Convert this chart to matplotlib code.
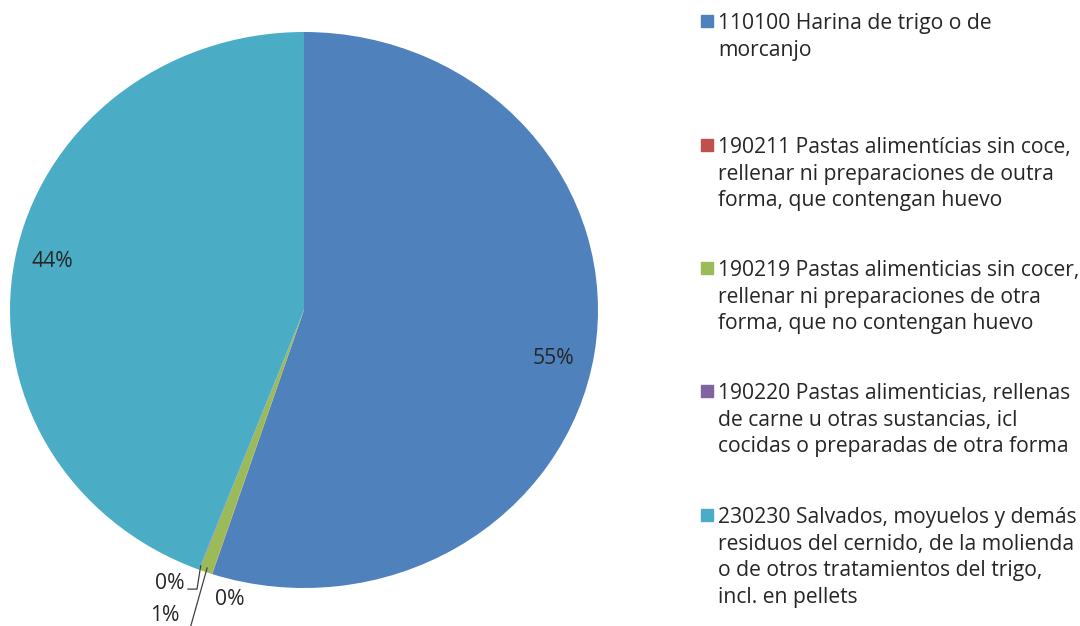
import numpy as np
import matplotlib
matplotlib.use("Agg")
from matplotlib import pyplot as plt
from matplotlib.patches import Rectangle

plt.rcParams['font.family'] = ['Open Sans', 'DejaVu Sans']

labels = [
    "110100 Harina de trigo o de\nmorcanjo",
    "190211 Pastas alimentícias sin coce,\nrellenar ni preparaciones de outra\nforma, que contengan huevo",
    "190219 Pastas alimenticias sin cocer,\nrellenar ni preparaciones de otra\nforma, que no contengan huevo",
    "190220 Pastas alimenticias, rellenas\nde carne u otras sustancias, icl\ncocidas o preparadas de otra forma",
    "230230 Salvados, moyuelos y demás\nresiduos del cernido, de la molienda\no de otros tratamientos del trigo,\nincl. en pellets",
]
shares = [55.05, 0.02, 0.72, 0.03, 44.18]
pct_text = ["55%", "0%", "1%", "0%", "44%"]
colors = ["#4F81BD", "#C0504D", "#9BBB59", "#8064A2", "#4BACC6"]

fig = plt.figure(figsize=(10.8, 6.26), dpi=100)
ax = fig.add_axes([10 / 1080, 38 / 626, 588 / 1080, 556 / 626])

wedges, _ = ax.pie(shares, colors=colors, startangle=90, counterclock=False,
                   radius=1.0, wedgeprops=dict(linewidth=0))
ax.set_aspect('auto')   # the original chart is a bit wider than tall
ax.set_xlim(-1, 1)
ax.set_ylim(-1, 1)
ax.axis('off')

fs = 15.2
txtc = '#262626'
# data labels on the two big slices
ax.text(0.847, -0.176, pct_text[0], ha='center', va='center', fontsize=fs, color=txtc)
ax.text(-0.857, 0.176, pct_text[4], ha='center', va='center', fontsize=fs, color=txtc)

# small slices: labels outside the pie
def edge(i, r=1.0):
    w = wedges[i]
    mid = np.deg2rad((w.theta1 + w.theta2) / 2)
    return r * np.cos(mid), r * np.sin(mid)

ax.text(-0.252, -1.043, pct_text[1], ha='center', va='center', fontsize=fs, color=txtc)

x0, y0 = edge(3, 0.985)
ax.plot([x0, -0.364, -0.395], [y0, -1.004, -1.004], color='#404040', lw=0.9, clip_on=False)
ax.text(-0.405, -0.985, pct_text[3], ha='right', va='center', fontsize=fs, color=txtc)

x0, y0 = edge(2, 0.985)
ax.plot([x0, -0.41], [y0, -1.23], color='#404040', lw=0.9, clip_on=False)
ax.text(-0.475, -1.10, pct_text[2], ha='center', va='center', fontsize=fs, color=txtc)

# legend drawn at fixed rows, Excel style
rows_y = [21, 145, 268, 391, 515]
for lab, col, yy in zip(labels, colors, rows_y):
    fig.patches.append(Rectangle((701 / 1080, 1 - (yy + 6) / 626), 12 / 1080, 12 / 626,
                                 transform=fig.transFigure, color=col))
    fig.text(718 / 1080, 1 - (yy - 8) / 626, lab, ha='left', va='top',
             fontsize=fs, color=txtc, linespacing=1.35)

fig.savefig("out.png", dpi=100)
